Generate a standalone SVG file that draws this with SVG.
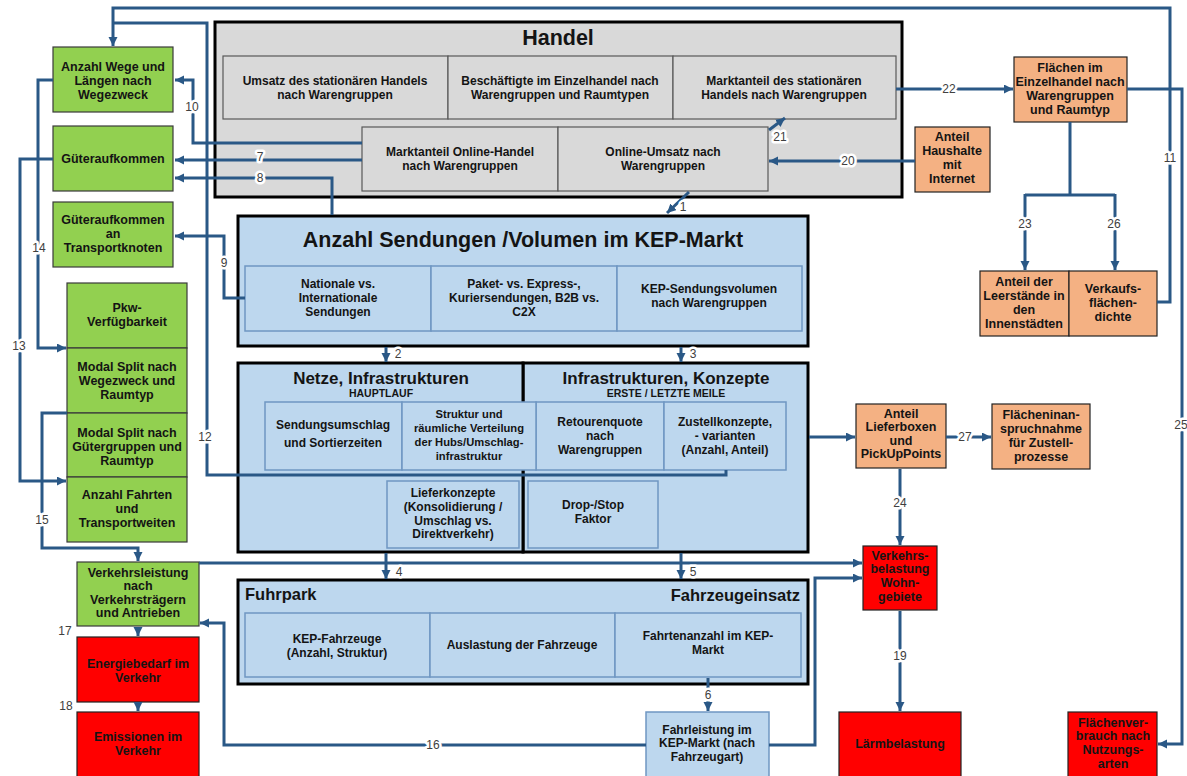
<svg xmlns="http://www.w3.org/2000/svg" width="1187" height="776" viewBox="0 0 1187 776">
<style>
text{font-family:"Liberation Sans",Arial,sans-serif;font-weight:bold;fill:#141414;text-anchor:middle}
.t{font-size:12.5px}
.s{font-size:12px}
.x{font-size:11.2px}
.big{fill:#d9d9d9;stroke:#000;stroke-width:3}
.cg{fill:#d9d9d9;stroke:#595959;stroke-width:1.2}
.bb{fill:#bdd7ee;stroke:#000;stroke-width:3}
.cb{fill:#bdd7ee;stroke:#6f97c2;stroke-width:1.5}
.gr{fill:#92d050;stroke:#3a3a3a;stroke-width:1.2}
.or{fill:#f4b183;stroke:#222;stroke-width:1.2}
.rd{fill:#ff0000;stroke:#222;stroke-width:1.2}
.c{fill:none;stroke:#2a5886;stroke-width:3}
.a{marker-end:url(#ah)}
.n{font-size:12px;font-weight:normal;fill:#404040;stroke:#fff;stroke-width:5;paint-order:stroke;stroke-linejoin:round}
</style>
<defs>
<marker id="ah" markerUnits="userSpaceOnUse" markerWidth="10" markerHeight="10" refX="9" refY="4.5" orient="auto">
<path d="M0,0 L9,4.5 L0,9 z" fill="#2a5886"/>
</marker>
</defs>

<!-- Handel -->
<g id="handel">
<rect class="big" x="215" y="22" width="687" height="175"/>
<text x="558" y="45" style="font-size:21.5px">Handel</text>
<rect class="cg" x="223" y="56" width="225" height="63"/>
<rect class="cg" x="448" y="56" width="225" height="63"/>
<rect class="cg" x="673" y="56" width="223" height="63"/>
<text class="s" x="335" y="85">Umsatz des stationären Handels</text>
<text class="s" x="335" y="99">nach Warengruppen</text>
<text class="s" x="560" y="85">Beschäftigte im Einzelhandel nach</text>
<text class="s" x="560" y="99">Warengruppen und Raumtypen</text>
<text class="s" x="784" y="85">Marktanteil des stationären</text>
<text class="s" x="784" y="99">Handels nach Warengruppen</text>
<rect class="cg" x="362" y="127" width="196" height="64"/>
<rect class="cg" x="558" y="127" width="210" height="64"/>
<text class="s" x="460" y="156">Marktanteil Online-Handel</text>
<text class="s" x="460" y="170">nach Warengruppen</text>
<text class="s" x="663" y="156">Online-Umsatz nach</text>
<text class="s" x="663" y="170">Warengruppen</text>
</g>

<!-- KEP -->
<g id="kep">
<rect class="bb" x="238" y="216" width="570" height="130"/>
<text x="523" y="247" style="font-size:21.5px">Anzahl Sendungen /Volumen im KEP-Markt</text>
<rect class="cb" x="245" y="266" width="186" height="65"/>
<rect class="cb" x="431" y="266" width="186" height="65"/>
<rect class="cb" x="617" y="266" width="185" height="65"/>
<text class="s" x="338" y="288">Nationale vs.</text>
<text class="s" x="338" y="302">Internationale</text>
<text class="s" x="338" y="316">Sendungen</text>
<text class="s" x="524" y="288">Paket- vs. Express-,</text>
<text class="s" x="524" y="302">Kuriersendungen, B2B vs.</text>
<text class="s" x="524" y="316">C2X</text>
<text class="s" x="709" y="293">KEP-Sendungsvolumen</text>
<text class="s" x="709" y="307">nach Warengruppen</text>
</g>

<!-- Infrastrukturen / Netze -->
<g id="infra">
<rect class="bb" x="523" y="363" width="285" height="189"/>
<text x="666" y="384" style="font-size:17px">Infrastrukturen, Konzepte</text>
<text x="666" y="397" style="font-size:10.5px">ERSTE  /  LETZTE  MEILE</text>
<rect class="cb" x="536" y="402" width="128" height="68"/>
<rect class="cb" x="664" y="402" width="122" height="68"/>
<text class="s" x="600" y="426">Retourenquote</text>
<text class="s" x="600" y="440">nach</text>
<text class="s" x="600" y="454">Warengruppen</text>
<text class="s" x="725" y="426">Zustellkonzepte,</text>
<text class="s" x="725" y="440">- varianten</text>
<text class="s" x="725" y="454">(Anzahl, Anteil)</text>
<rect class="cb" x="528" y="481" width="130" height="67"/>
<text class="s" x="593" y="509">Drop-/Stop</text>
<text class="s" x="593" y="523">Faktor</text>
</g>
<g id="netze">
<rect class="bb" x="238" y="363" width="285" height="189"/>
<text x="381" y="384" style="font-size:17px">Netze, Infrastrukturen</text>
<text x="381" y="397" style="font-size:10.5px">HAUPTLAUF</text>
<rect class="cb" x="265" y="402" width="137" height="68"/>
<rect class="cb" x="402" y="402" width="134" height="68"/>
<text class="s" x="333" y="429">Sendungsumschlag</text>
<text class="s" x="333" y="447">und Sortierzeiten</text>
<text class="x" x="469" y="418">Struktur und</text>
<text class="x" x="469" y="432">räumliche Verteilung</text>
<text class="x" x="469" y="446">der Hubs/Umschlag-</text>
<text class="x" x="469" y="460">infrastruktur</text>
<rect class="cb" x="387" y="481" width="132" height="67"/>
<text class="s" x="453" y="497">Lieferkonzepte</text>
<text class="s" x="453" y="511">(Konsolidierung /</text>
<text class="s" x="453" y="525">Umschlag vs.</text>
<text class="s" x="453" y="538">Direktverkehr)</text>
</g>

<!-- Fuhrpark -->
<g id="fuhrpark">
<rect class="bb" x="238" y="580" width="570" height="104"/>
<text x="245" y="600" style="font-size:16.5px;text-anchor:start">Fuhrpark</text>
<text x="800" y="601" style="font-size:16.5px;text-anchor:end">Fahrzeugeinsatz</text>
<rect class="cb" x="245" y="613" width="185" height="64"/>
<rect class="cb" x="430" y="613" width="185" height="64"/>
<rect class="cb" x="615" y="613" width="186" height="64"/>
<text class="s" x="337" y="643">KEP-Fahrzeuge</text>
<text class="s" x="337" y="657">(Anzahl, Struktur)</text>
<text class="s" x="522" y="649">Auslastung der Fahrzeuge</text>
<text class="s" x="708" y="640">Fahrtenanzahl im KEP-</text>
<text class="s" x="708" y="654">Markt</text>
</g>
<g id="fahrleistung">
<rect class="cb" x="646" y="712" width="123" height="68"/>
<text class="s" x="707" y="734">Fahrleistung im</text>
<text class="s" x="707" y="747">KEP-Markt (nach</text>
<text class="s" x="707" y="761">Fahrzeugart)</text>
</g>

<!-- left column -->
<g id="wege">
<rect class="gr" x="53" y="47" width="120" height="65"/>
<text class="t" x="113" y="71">Anzahl Wege und</text>
<text class="t" x="113" y="85">Längen nach</text>
<text class="t" x="113" y="99">Wegezweck</text>
</g>
<g id="gueter">
<rect class="gr" x="53" y="126" width="120" height="65"/>
<text class="t" x="113" y="163">Güteraufkommen</text>
</g>
<g id="gueterknoten">
<rect class="gr" x="53" y="202" width="120" height="65"/>
<text class="t" x="113" y="224">Güteraufkommen</text>
<text class="t" x="113" y="238">an</text>
<text class="t" x="113" y="252">Transportknoten</text>
</g>
<g id="pkw">
<rect class="gr" x="67" y="283" width="120" height="65"/>
<text class="t" x="127" y="312">Pkw-</text>
<text class="t" x="127" y="326">Verfügbarkeit</text>
</g>
<g id="modalwege">
<rect class="gr" x="67" y="348" width="120" height="65"/>
<text class="t" x="127" y="371">Modal Split nach</text>
<text class="t" x="127" y="385">Wegezweck und</text>
<text class="t" x="127" y="399">Raumtyp</text>
</g>
<g id="modalgueter">
<rect class="gr" x="67" y="413" width="120" height="64"/>
<text class="t" x="127" y="437">Modal Split nach</text>
<text class="t" x="127" y="451">Gütergruppen und</text>
<text class="t" x="127" y="465">Raumtyp</text>
</g>
<g id="fahrten">
<rect class="gr" x="67" y="477" width="120" height="65"/>
<text class="t" x="127" y="499">Anzahl Fahrten</text>
<text class="t" x="127" y="513">und</text>
<text class="t" x="127" y="527">Transportweiten</text>
</g>
<g id="verkehrsleistung">
<rect class="gr" x="77" y="562" width="122" height="64"/>
<text class="t" x="138" y="577">Verkehrsleistung</text>
<text class="t" x="138" y="590">nach</text>
<text class="t" x="138" y="604">Verkehrsträgern</text>
<text class="t" x="138" y="617">und Antrieben</text>
</g>
<g id="energie">
<rect class="rd" x="77" y="637" width="122" height="65"/>
<text class="t" x="138" y="668">Energiebedarf im</text>
<text class="t" x="138" y="682">Verkehr</text>
</g>
<g id="emissionen">
<rect class="rd" x="77" y="712" width="122" height="68"/>
<text class="t" x="138" y="741">Emissionen im</text>
<text class="t" x="138" y="755">Verkehr</text>
</g>

<!-- right side -->
<g id="haushalte">
<rect class="or" x="915" y="127" width="75" height="65"/>
<text class="t" x="952" y="141">Anteil</text>
<text class="t" x="952" y="155">Haushalte</text>
<text class="t" x="952" y="169">mit</text>
<text class="t" x="952" y="183">Internet</text>
</g>
<g id="flaechen">
<rect class="or" x="1014" y="57" width="113" height="65"/>
<text class="t" x="1070" y="72">Flächen im</text>
<text class="t" x="1070" y="86">Einzelhandel nach</text>
<text class="t" x="1070" y="100">Warengruppen</text>
<text class="t" x="1070" y="114">und Raumtyp</text>
</g>
<g id="leerstaende">
<rect class="or" x="980" y="271" width="89" height="65"/>
<text class="t" x="1024" y="286">Anteil der</text>
<text class="t" x="1024" y="300">Leerstände in</text>
<text class="t" x="1024" y="314">den</text>
<text class="t" x="1024" y="328">Innenstädten</text>
</g>
<g id="verkaufsflaeche">
<rect class="or" x="1069" y="271" width="88" height="65"/>
<text class="t" x="1113" y="293">Verkaufs-</text>
<text class="t" x="1113" y="307">flächen-</text>
<text class="t" x="1113" y="321">dichte</text>
</g>
<g id="lieferboxen">
<rect class="or" x="856" y="404" width="90" height="64"/>
<text class="t" x="901" y="418">Anteil</text>
<text class="t" x="901" y="431">Lieferboxen</text>
<text class="t" x="901" y="445">und</text>
<text class="t" x="901" y="458">PickUpPoints</text>
</g>
<g id="zustellflaeche">
<rect class="or" x="992" y="404" width="98" height="65"/>
<text class="t" x="1041" y="419">Flächeninan-</text>
<text class="t" x="1041" y="433">spruchnahme</text>
<text class="t" x="1041" y="447">für Zustell-</text>
<text class="t" x="1041" y="461">prozesse</text>
</g>
<g id="wohngebiete">
<rect class="rd" x="863" y="546" width="74" height="64"/>
<text class="t" x="900" y="560">Verkehrs-</text>
<text class="t" x="900" y="573">belastung</text>
<text class="t" x="900" y="587">Wohn-</text>
<text class="t" x="900" y="601">gebiete</text>
</g>
<g id="laerm">
<rect class="rd" x="839" y="712" width="122" height="68"/>
<text class="t" x="900" y="748">Lärmbelastung</text>
</g>
<g id="flaechenverbrauch">
<rect class="rd" x="1068" y="712" width="89" height="68"/>
<text class="t" x="1113" y="727">Flächenver-</text>
<text class="t" x="1113" y="740">brauch nach</text>
<text class="t" x="1113" y="754">Nutzungs-</text>
<text class="t" x="1113" y="768">arten</text>
</g>

<!-- connectors -->
<g id="connectors">
<path class="c a" d="M689 192 L667 213"/>
<path class="c a" d="M386 347 L386 362"/>
<path class="c a" d="M681 347 L681 362"/>
<path class="c a" d="M386 553 L386 579"/>
<path class="c a" d="M681 553 L681 579"/>
<path class="c a" d="M708 678 L708 711"/>
<path class="c a" d="M362 160 L175 160"/>
<path class="c a" d="M332 215 L332 178 L175 178"/>
<path class="c a" d="M245 298 L224 298 L224 236 L175 236"/>
<path class="c a" d="M362 143 L193 143 L193 80 L175 80"/>
<path class="c a" d="M1157 302 L1170 302 L1170 8 L113 8 L113 46"/>
<path class="c" d="M726 470 L726 475 L207 475 L207 23 L113 23"/>
<path class="c a" d="M53 159 L20 159 L20 481 L66 481"/>
<path class="c a" d="M53 80 L38 80 L38 348 L66 348"/>
<path class="c a" d="M67 413 L42 413 L42 548 L138 548 L138 561"/>
<path class="c a" d="M646 745 L224 745 L224 623 L200 623"/>
<path class="c a" d="M138 627 L138 636"/>
<path class="c a" d="M138 703 L138 711"/>
<path class="c a" d="M900 611 L900 711"/>
<path class="c a" d="M915 161 L769 161"/>
<path class="c a" d="M769 130 L785 118"/>
<path class="c a" d="M896 89 L1013 89"/>
<path class="c" d="M1070 122 L1070 195 M1025 195 L1115 195"/>
<path class="c a" d="M1025 194 L1025 270"/>
<path class="c a" d="M1115 194 L1115 270"/>
<path class="c a" d="M900 469 L900 545"/>
<path class="c a" d="M1127 89 L1182 89 L1182 744 L1158 744"/>
<path class="c a" d="M946 437 L991 437"/>
<path class="c a" d="M809 437 L855 437"/>
<path class="c a" d="M199 563 L862 563"/>
<path class="c a" d="M769 745 L815 745 L815 578 L862 578"/>
<text class="n" x="683" y="211">1</text>
<text class="n" x="398" y="358">2</text>
<text class="n" x="693" y="358">3</text>
<text class="n" x="399" y="576">4</text>
<text class="n" x="693" y="576">5</text>
<text class="n" x="708" y="699">6</text>
<text class="n" x="260" y="161">7</text>
<text class="n" x="260" y="182">8</text>
<text class="n" x="224" y="267">9</text>
<text class="n" x="192" y="111">10</text>
<text class="n" x="1170" y="162">11</text>
<text class="n" x="205" y="441">12</text>
<text class="n" x="19" y="350">13</text>
<text class="n" x="39" y="252">14</text>
<text class="n" x="42" y="524">15</text>
<text class="n" x="433" y="749">16</text>
<text class="n" x="65" y="635">17</text>
<text class="n" x="66" y="710">18</text>
<text class="n" x="900" y="660">19</text>
<text class="n" x="848" y="165">20</text>
<text class="n" x="780" y="141">21</text>
<text class="n" x="949" y="93">22</text>
<text class="n" x="1025" y="228">23</text>
<text class="n" x="900" y="507">24</text>
<text class="n" x="1181" y="429">25</text>
<text class="n" x="1114" y="228">26</text>
<text class="n" x="965" y="441">27</text>
</g>
</svg>
